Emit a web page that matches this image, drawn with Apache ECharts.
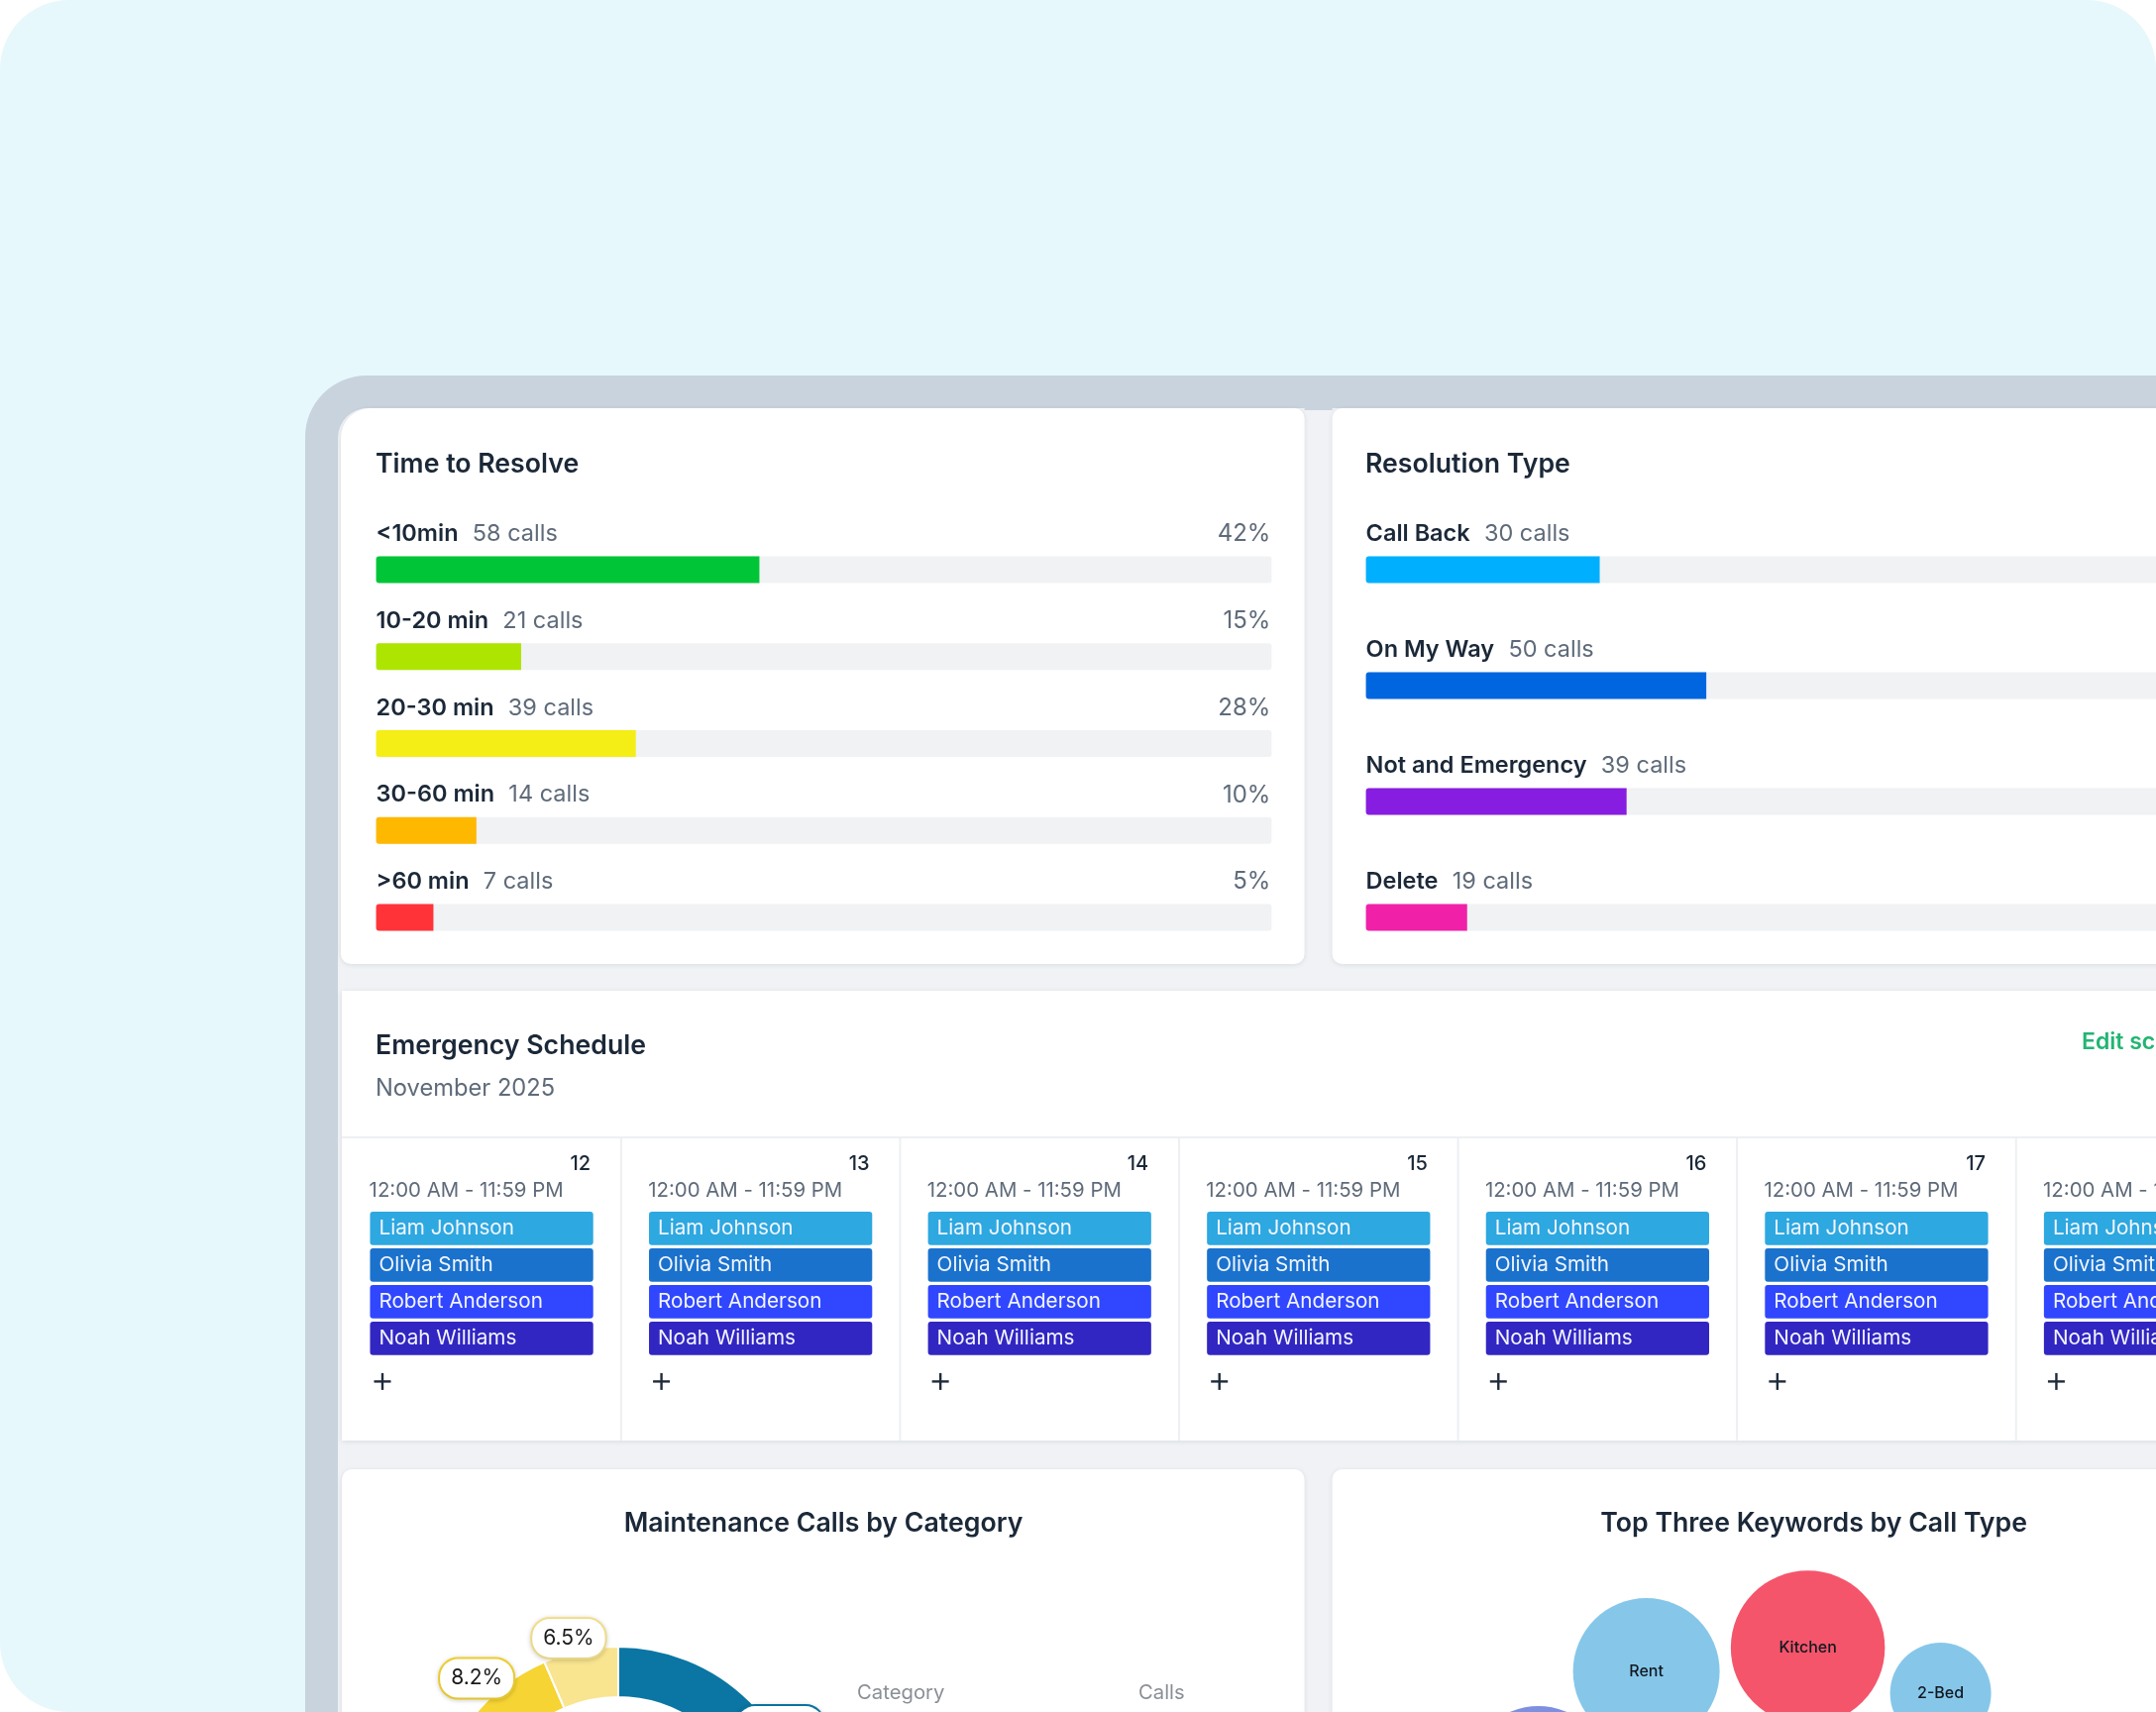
<!DOCTYPE html>
<html><head><meta charset="utf-8">
<style>html,body{margin:0;padding:0;background:#fff;width:2176px;height:1728px;overflow:hidden}#c{width:2600px;height:2600px}</style>
<script src="https://cdn.jsdelivr.net/npm/echarts@6/dist/echarts.min.js"></script>
</head><body><div id="c"></div>
<script>
const resolveNames = ['<10min','10-20 min','20-30 min','30-60 min','>60 min'];
const resolveCalls = [58,21,39,14,7];
const resolvePct = [42,15,28,10,5];
const resolveFill = [42.8,16.2,29,11.2,6.4];
const resolveColors = ['#00C537','#AEE500','#F4EE16','#FFB800','#FF3338'];
const typeNames = ['Call Back','On My Way','Not and Emergency','Delete'];
const typeCalls = [30,50,39,19];
const typeFill = [26.1,38,29.1,11.3];
const typeColors = ['#00B0FF','#0066E0','#871DE0','#F021A8'];
const days = ['12','13','14','15','16','17','18'];
const timeRange = '12:00 AM - 11:59 PM';
const people = ['Liam Johnson','Olivia Smith','Robert Anderson','Noah Williams'];
const peopleColors = ['#2DA8E0','#1A72CC','#3047FF','#3226C2'];
const pieNames = ['Plumbing','Electrical','Appliance','HVAC','General','Pest','Other'];
const pieValues = [30,20,15,11.3,9,8.2,6.5];
const pieColors = ['#0B76A4','#3FA7C9','#7FC6DD','#B5DFEA','#F2B705','#F5D433','#F9E58F'];
const bubbleNames = ['Rent','Kitchen','2-Bed','Repair'];
const bubbleX = [31.7,48.0,61.4,20.8];
const bubbleY = [79.6,82.0,77.4,69.1];
const bubbleSize = [148,155.5,102,140];
const bubbleColors = ['#86C7E9','#F4556B','#86C7E9','#7F8FE0'];

const F = 'Inter';
const dark = '#1B2838', gray = '#5F6B7A';

function rect(x,y,w,h,r,fill,shadow){
  return {type:'rect',z:-10,silent:true,shape:{x,y,width:w,height:h,r},
    style:Object.assign({fill},shadow?{shadowBlur:5,shadowOffsetY:1,shadowColor:'rgba(20,40,60,0.10)'}:{})};
}
function cardTitle(text,left,top,extra){
  return Object.assign({text,left,top,padding:0,textStyle:{fontFamily:F,fontSize:26.7,fontWeight:600,color:dark}},extra||{});
}
function rowSeries(names,calls,pct,fill,colors,gi){
  const nameLabel = (i)=>({show:true,position:[0,-22.5],verticalAlign:'middle',align:'left',
    formatter:()=>`{n|${names[i]}}{c|  ${calls[i]} calls}`,
    rich:{n:{fontFamily:F,fontSize:23.5,fontWeight:600,color:dark},c:{fontFamily:F,fontSize:23.5,fontWeight:400,color:gray,padding:[0,0,0,1]}}});
  return [{
    type:'bar',xAxisIndex:gi,yAxisIndex:gi,barWidth:27,barGap:'-100%',silent:true,
    data:names.map((_,i)=>({value:100,
      label:pct?{show:true,position:['100%',-22.5],align:'right',verticalAlign:'middle',offset:[-1,0],formatter:pct[i]+'%',fontFamily:F,fontSize:24,color:gray}:{show:false}})),
    itemStyle:{color:'#F0F2F4',borderRadius:3}
  },{
    type:'bar',xAxisIndex:gi,yAxisIndex:gi,barWidth:27,barGap:'-100%',silent:true,
    data:names.map((_,i)=>({value:fill[i],itemStyle:{color:colors[i]},label:nameLabel(i)})),
    itemStyle:{borderRadius:[3,0,0,3]}
  }];
}
const option = {
  animation:false,
  backgroundColor:'#fff',
  graphic:{elements:[
    rect(0,0,2176,1728,70,'#E6F8FC'),
    rect(308,379,2000,1500,62,'#C8D3DD'),
    rect(341,412,2000,1500,30,'#F0F2F5'),
    rect(1316.6,412,28,2,0,'#C8D3DD'),
    rect(344,412,972.6,561,[30,10,10,10],'#fff',true),
    rect(1344.6,412,1000,561,[10,0,0,10],'#fff',true),
    rect(345,1000,1900,454,[0,0,0,0],'#fff',true),
    rect(345,1147,1900,2,0,'#EDEFF2'),
    rect(345,1483,971.6,400,[10,10,0,0],'#fff',true),
    rect(1344.6,1483,1000,400,[10,0,0,0],'#fff',true),
    {type:'text',z:5,silent:true,style:{x:865,y:1709,text:'Category',fontFamily:F,fontSize:20.3,fill:'#8A8F96',verticalAlign:'middle'}},
    {type:'text',z:5,silent:true,style:{x:1149,y:1709,text:'Calls',fontFamily:F,fontSize:20.3,fill:'#8A8F96',verticalAlign:'middle'}}
  ]},
  title:[
    cardTitle('Time to Resolve',379,455),
    cardTitle('Resolution Type',1378,455),
    cardTitle('Emergency Schedule',379,1042.5),
    {text:'November 2025',left:379,top:1087,padding:0,textStyle:{fontFamily:F,fontSize:23.7,fontWeight:400,color:gray}},
    {text:'Edit schedule',left:2101,top:1040.5,padding:0,textStyle:{fontFamily:F,fontSize:23,fontWeight:600,color:'#22B573'}},
    cardTitle('Maintenance Calls by Category',831,1524,{textAlign:'center'}),
    cardTitle('Top Three Keywords by Call Type',1830.6,1524,{textAlign:'center'})
  ],
  grid:[
    {left:379.6,top:531,width:903.8,height:439},
    {left:1378.6,top:516.5,width:904,height:468},
    {left:345.3,top:1221.3,width:1971,height:148},
    {left:1344.6,top:1483,width:1000,height:1000}
  ],
  xAxis:[
    {gridIndex:0,type:'value',min:0,max:100,show:false},
    {gridIndex:1,type:'value',min:0,max:100,show:false},
    {gridIndex:2,type:'category',data:days,show:false},
    {gridIndex:3,type:'value',min:0,max:100,show:false}
  ],
  yAxis:[
    {gridIndex:0,type:'category',inverse:true,data:resolveNames,show:false},
    {gridIndex:1,type:'category',inverse:true,data:typeNames,show:false},
    {gridIndex:2,type:'category',inverse:true,data:people,show:false},
    {gridIndex:3,type:'value',min:0,max:100,show:false}
  ],
  series:[
    ...rowSeries(resolveNames,resolveCalls,resolvePct,resolveFill,resolveColors,0),
    ...rowSeries(typeNames,typeCalls,null,typeFill,typeColors,1),
    {
      type:'custom',xAxisIndex:2,yAxisIndex:2,silent:true,clip:false,
      data:days.flatMap((d,i)=>people.map((p,j)=>[i,j])),
      renderItem(params,api){
        const c = api.coord([api.value(0),api.value(1)]);
        const s = api.size([1,1]);
        const w = s[0]*0.8, h = s[1]*0.911;
        const j = api.value(1);
        return {type:'group',children:[
          {type:'rect',shape:{x:c[0]-w/2,y:c[1]-h/2,width:w,height:h,r:3},style:{fill:peopleColors[j]}},
          {type:'text',style:{x:c[0]-w/2+9,y:c[1],text:people[j],fill:'#F2F5FF',fontFamily:F,fontSize:20.7,align:'left',verticalAlign:'middle'}}
        ]};
      }
    },
    {
      type:'custom',xAxisIndex:2,yAxisIndex:2,silent:true,clip:false,z:3,
      data:days.map((d,i)=>[i,0]),
      renderItem(params,api){
        const i = api.value(0);
        const c = api.coord([i,0]);
        const s = api.size([1,1]);
        const bw = s[0], bh = s[1];
        const left = c[0]-bw*0.5+27.3;
        const plusX = left+13.4, plusY = c[1]+bh*3+43.6;
        return {type:'group',children:[
          {type:'text',style:{x:c[0]+110,y:c[1]-65,text:days[i],fill:dark,fontFamily:F,fontSize:20,fontWeight:500,align:'right',verticalAlign:'middle'}},
          {type:'text',style:{x:left,y:c[1]-38,text:timeRange,fill:gray,fontFamily:F,fontSize:20.4,align:'left',verticalAlign:'middle'}},
          {type:'rect',shape:{x:plusX-8.5,y:plusY-1.2,width:17,height:2.4},style:{fill:'#1F2B3A'}},
          {type:'rect',shape:{x:plusX-1.2,y:plusY-8.5,width:2.4,height:17},style:{fill:'#1F2B3A'}},
          {type:'rect',shape:{x:c[0]+bw/2-1,y:c[1]-92,width:2,height:306},style:{fill:'#EDEFF2'}}
        ]};
      }
    },
    {
      type:'pie',center:[624,1850],radius:[137,188],startAngle:90,clockwise:true,silent:true,
      avoidLabelOverlap:false,
      itemStyle:{borderColor:'#fff',borderWidth:2},
      data:pieNames.map((n,i)=>({name:n,value:pieValues[i],itemStyle:{color:pieColors[i]},
        label:{formatter:pieValues[i].toFixed(1)+'%',borderColor:pieColors[i]}})),
      label:{show:true,position:'outside',fontFamily:F,fontSize:21,color:'#1A1A1A',backgroundColor:'#fff',
        borderWidth:2,borderRadius:18,padding:[9,11],shadowBlur:5,shadowColor:'rgba(0,0,0,0.15)',shadowOffsetY:1},
      labelLine:{show:false,length:6,length2:0},
      labelLayout:(p)=>{
        const map={0:{dx:-42,dy:5.6},5:{dx:19,dy:-3.4},6:{dx:31,dy:-6.6}};
        return map[p.dataIndex]||{};
      }
    },
    {
      type:'scatter',xAxisIndex:3,yAxisIndex:3,silent:true,
      data:bubbleNames.map((n,i)=>({name:n,value:[bubbleX[i],bubbleY[i]],symbolSize:bubbleSize[i],itemStyle:{color:bubbleColors[i],opacity:1}})),
      label:{show:true,position:'inside',formatter:'{b}',fontFamily:F,fontSize:16,fontWeight:500,color:'#111820'}
    }
  ]
};
const chart = echarts.init(document.getElementById('c'),null,{renderer:'canvas',width:2600,height:2600,devicePixelRatio:1});
chart.setOption(option);
</script></body></html>
